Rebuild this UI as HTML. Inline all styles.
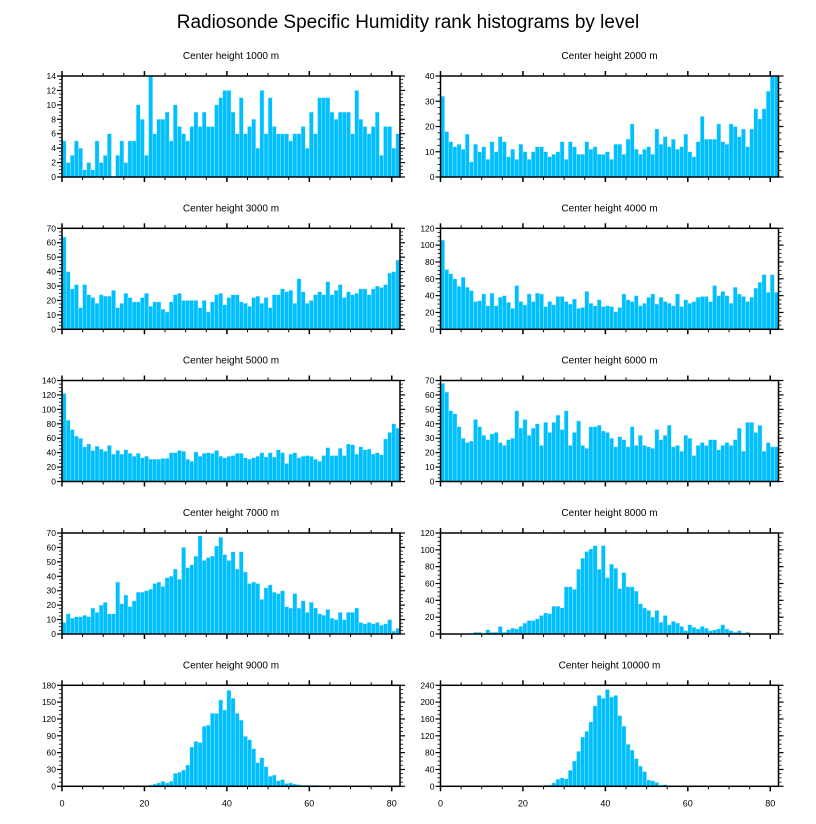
<!DOCTYPE html>
<html><head><meta charset="utf-8"><style>
body{margin:0;background:#fff;}
svg{display:block;font-family:"Liberation Sans",sans-serif;}
</style></head><body>
<svg id="chart" width="816" height="824">
<text x="408" y="28" text-anchor="middle" font-size="19">Radiosonde Specific Humidity rank histograms by level</text>
</svg>
<script>
const levels=["1000","2000","3000","4000","5000","6000","7000","8000","9000","10000"];
const yMax=[14,40,70,120,140,70,70,120,180,240];
const yStep=[2,10,10,20,20,10,10,20,30,40];
const xTicks=[0,20,40,60,80];
const h1000=[5,2,3,5,4,1,2,1,5,2,3,6,0,3,5,2,5,5,10,8,3,14,6,8,8,9,5,10,7,6,5,7,9,7,9,7,7,10,11,12,12,9,6,11,6,7,8,4,12,6,11,7,6,6,6,5,6,6,7,4,9,6,11,11,11,9,8,9,9,9,6,12,8,7,6,7,9,3,7,7,4,6];
const h2000=[32,18,14,12,13,11,17,6,13,10,12,7,14,10,16,14,8,11,7,13,10,7,10,12,12,10,8,9,10,14,7,14,12,9,9,14,11,12,9,9,10,7,13,13,9,15,21,11,9,11,12,9,19,13,16,12,15,11,12,17,10,8,14,24,15,15,15,21,14,13,21,20,16,19,12,19,27,23,27,34,40,40];
const h3000=[64,40,28,31,15,31,24,22,18,24,23,23,27,15,18,25,22,19,19,22,25,16,19,19,14,12,19,24,25,20,20,20,20,15,20,12,19,24,25,17,22,24,24,19,18,16,22,23,18,22,15,24,24,28,26,27,18,35,26,18,20,24,26,24,33,24,27,31,22,26,24,25,28,28,24,28,30,29,31,39,40,48];
const h4000=[106,71,66,60,51,62,50,46,33,34,42,28,43,28,38,40,32,25,52,33,29,42,33,43,42,27,33,29,39,39,33,30,36,25,26,45,31,28,35,27,28,27,21,26,42,35,33,40,28,31,38,42,30,38,33,31,28,42,27,35,31,33,38,39,39,33,52,40,45,40,31,50,42,39,33,38,49,56,65,44,44,44].slice(0,80).concat([65,44]);
const h5000=[122,85,72,63,60,48,52,43,49,45,42,50,38,43,38,44,39,35,39,33,35,31,31,31,32,32,40,40,43,42,31,28,41,35,39,40,39,43,35,33,35,36,39,39,33,31,33,35,40,34,40,34,44,40,25,38,40,33,35,36,35,31,28,36,47,36,36,46,36,52,51,38,48,44,45,38,40,37,59,68,80,74];
const h6000=[68,62,49,47,38,30,27,28,43,38,32,29,33,34,27,25,29,30,49,37,43,32,37,40,25,41,34,41,46,36,49,25,34,42,25,23,38,38,39,35,34,30,24,31,29,24,38,25,32,25,24,23,36,29,32,39,24,25,21,32,30,18,25,27,25,29,29,22,25,27,25,29,37,21,41,41,34,39,21,27,24,24];
const h7000=[8,14,11,12,12,13,12,18,15,20,22,14,14,36,21,27,19,23,29,29,30,31,35,36,33,39,40,45,38,60,46,48,54,68,51,53,54,61,67,55,51,57,45,57,43,35,36,35,24,32,34,29,28,30,19,18,28,18,23,15,22,18,14,13,17,11,10,15,10,15,15,18,8,7,8,7,8,6,7,10,2,4];
const h8000=[0,0,0,0,0,0,0,0,2,2,0,5,2,2,9,2,5,7,6,9,13,16,16,18,22,25,24,33,33,31,56,56,53,77,90,98,101,105,77,105,67,83,78,54,73,56,56,51,36,31,28,20,28,14,22,11,15,13,9,4,11,8,6,9,7,4,5,6,11,6,4,2,4,1,2,0,0,0,0,0,0,0];
const h9000=[0,0,0,0,0,0,0,0,0,0,0,0,0,1,0,0,0,0,1,0,0,2,4,6,9,6,9,23,25,29,38,70,80,78,107,109,130,130,154,136,171,157,130,118,89,83,67,42,51,35,18,20,10,12,5,6,4,3,2,2,2,2,0,0,0,1,0,0,0,0,0,0,0,0,0,0,0,0,0,0,0,0];
const h10000=[0,0,0,0,0,0,0,0,0,0,0,0,0,0,0,0,0,0,0,0,0,0,0,0,0,3,3,8,17,20,18,38,60,83,117,131,153,191,216,209,230,212,216,168,143,100,86,66,48,35,15,13,9,3,4,1,1,1,1,0,1,0,0,0,0,0,0,0,0,0,0,0,0,0,0,0,0,0,0,0,0,0];
const series=[h1000,h2000,h3000,h4000,h5000,h6000,h7000,h8000,h9000,h10000];

const NS="http://www.w3.org/2000/svg";
const svg=document.getElementById('chart');
const X_MAX=82, PW=338, PH=101;
const colX=[62,440.5], rowY=[76,228.3,380.5,533,685.3];
function mk(tag,attrs,parent){const e=document.createElementNS(NS,tag);for(const k in attrs)e.setAttribute(k,attrs[k]);(parent||svg).appendChild(e);return e;}

series.forEach((data,p)=>{
  const x0=colX[p%2], y0=rowY[Math.floor(p/2)];
  const ymax=yMax[p];
  const sx=v=>x0+v/X_MAX*PW;
  const sy=v=>y0+PH-v/ymax*PH;
  const g=mk('g',{});
  
  
  const t=mk('text',{x:x0+PW/2,y:y0-17,'text-anchor':'middle','font-size':'10'},g);
  t.textContent='Center height '+levels[p]+' m';
  
  
  data.forEach((v,i)=>{
    if(v<=0)return;
    const r=mk('rect',{x:sx(i),y:sy(v),width:sx(i+1)-sx(i),height:sy(0)-sy(v),fill:'#00bfff',stroke:'#bfefff','stroke-width':'0.4'},g);
    
    
  });
  // frame
  const f=mk('rect',{x:x0,y:y0,width:PW,height:PH,fill:'none',stroke:'#000','stroke-width':'1.5'},g);
  
  
  // x ticks
  for(let v=0;v<=X_MAX;v+=5){
    const major=v%20===0, L=major?5:3, x=sx(v);
    mk('line',{x1:x,x2:x,y1:y0,y2:y0-L,stroke:'#000','stroke-width':major?1.5:1},g);
    mk('line',{x1:x,x2:x,y1:y0+PH,y2:y0+PH+L,stroke:'#000','stroke-width':major?1.5:1},g);
  }
  if(p>=8){
    xTicks.forEach(v=>{
      const l=mk('text',{x:sx(v),y:y0+PH+20,'text-anchor':'middle','font-size':'9'},g);
      l.textContent=v;
      
      
    });
  }
  // y ticks
  const st=yStep[p], minor=st/4;
  for(let k=0;k*minor<=ymax+1e-9;k++){
    const v=k*minor, major=k%4===0, L=major?5:3, y=sy(v);
    mk('line',{x1:x0,x2:x0-L,y1:y,y2:y,stroke:'#000','stroke-width':major?1.2:0.8},g);
    mk('line',{x1:x0+PW,x2:x0+PW+L,y1:y,y2:y,stroke:'#000','stroke-width':major?1.2:0.8},g);
    if(major){
      const l=mk('text',{x:x0-6,y:y+3,'text-anchor':'end','font-size':'8.5'},g);
      l.textContent=v;
      
      
    }
  }
});
</script>
</body></html>
